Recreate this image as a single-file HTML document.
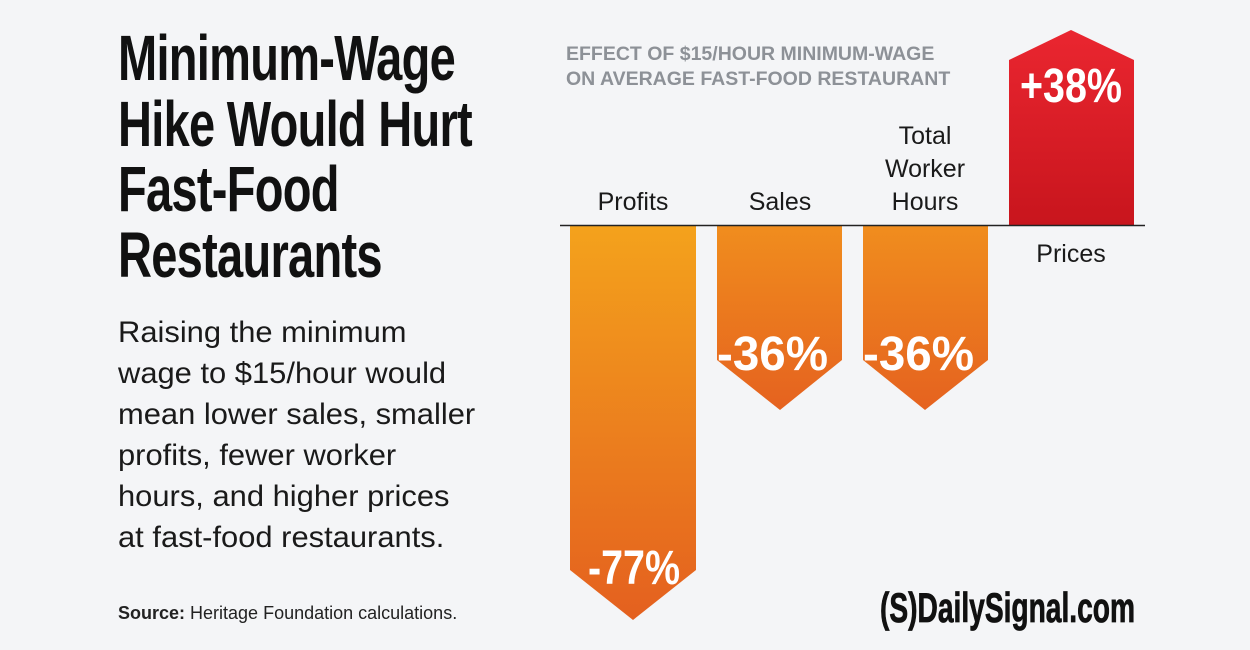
<!DOCTYPE html>
<html><head><meta charset="utf-8"><style>
html,body{margin:0;padding:0}
body{width:1250px;height:650px;background:#f4f5f7;position:relative;overflow:hidden;font-family:"Liberation Sans",sans-serif}
.t{position:absolute;left:118px;top:26px;font-weight:bold;font-size:64px;line-height:65.5px;color:#111;letter-spacing:-1px;transform:scaleX(0.735);transform-origin:left top;white-space:nowrap}
.b{position:absolute;left:118px;top:312px;font-size:30px;line-height:41px;color:#1a1a1a;white-space:nowrap;transform:scaleX(1.03);transform-origin:left top}
.s{position:absolute;left:118px;top:603px;font-size:18px;color:#222}
.h{position:absolute;left:566px;top:42px;font-size:19.5px;font-weight:bold;color:#8d9197;line-height:25px}
</style></head><body>
<div class="t">Minimum-Wage<br>Hike Would Hurt<br>Fast-Food<br>Restaurants</div>
<div class="b">Raising the minimum<br>wage to $15/hour would<br>mean lower sales, smaller<br>profits, fewer worker<br>hours, and higher prices<br>at fast-food restaurants.</div>
<div class="s"><b>Source:</b> Heritage Foundation calculations.</div>
<div class="h">EFFECT OF $15/HOUR MINIMUM-WAGE<br>ON AVERAGE FAST-FOOD RESTAURANT</div>
<svg width="1250" height="650" style="position:absolute;left:0;top:0">
<defs>
<linearGradient id="o1" x1="0" y1="0" x2="0" y2="1"><stop offset="0" stop-color="#f4a21c"/><stop offset="1" stop-color="#e4601f"/></linearGradient>
<linearGradient id="o2" x1="0" y1="0" x2="0" y2="1"><stop offset="0" stop-color="#f08d1e"/><stop offset="1" stop-color="#e5621f"/></linearGradient>
<linearGradient id="r" x1="0" y1="0" x2="0" y2="1"><stop offset="0" stop-color="#ea2630"/><stop offset="1" stop-color="#c8151d"/></linearGradient>
</defs>
<polygon points="570,226 696,226 696,570 633,620 570,570" fill="url(#o1)"/>
<polygon points="717,226 842,226 842,360 780,410 717,360" fill="url(#o2)"/>
<polygon points="863,226 988,226 988,360 925,410 863,360" fill="url(#o2)"/>
<polygon points="1009,225 1134,225 1134,60 1071,30 1009,60" fill="url(#r)"/>
<line x1="560" y1="225.5" x2="1145" y2="225.5" stroke="#222" stroke-width="1.5"/>
<g font-family="Liberation Sans" font-size="25" fill="#1a1a1a" text-anchor="middle">
<text x="633" y="210">Profits</text>
<text x="780" y="210">Sales</text>
<text x="925" y="144">Total</text>
<text x="925" y="177">Worker</text>
<text x="925" y="210">Hours</text>
<text x="1071" y="262">Prices</text>
</g>
<g font-family="Liberation Sans" font-weight="bold" font-size="48" fill="#fff">
<text x="588" y="584" textLength="92" lengthAdjust="spacingAndGlyphs">-77%</text>
<text x="717" y="370" textLength="111" lengthAdjust="spacingAndGlyphs">-36%</text>
<text x="863" y="370" textLength="111" lengthAdjust="spacingAndGlyphs">-36%</text>
<text x="1020" y="102" textLength="102" lengthAdjust="spacingAndGlyphs">+38%</text>
</g>
<text x="880" y="622" font-family="Liberation Sans" font-weight="bold" font-size="42" fill="#111" stroke="#111" stroke-width="0.8" textLength="255" lengthAdjust="spacingAndGlyphs">(S)DailySignal.com</text>
</svg>
</body></html>
